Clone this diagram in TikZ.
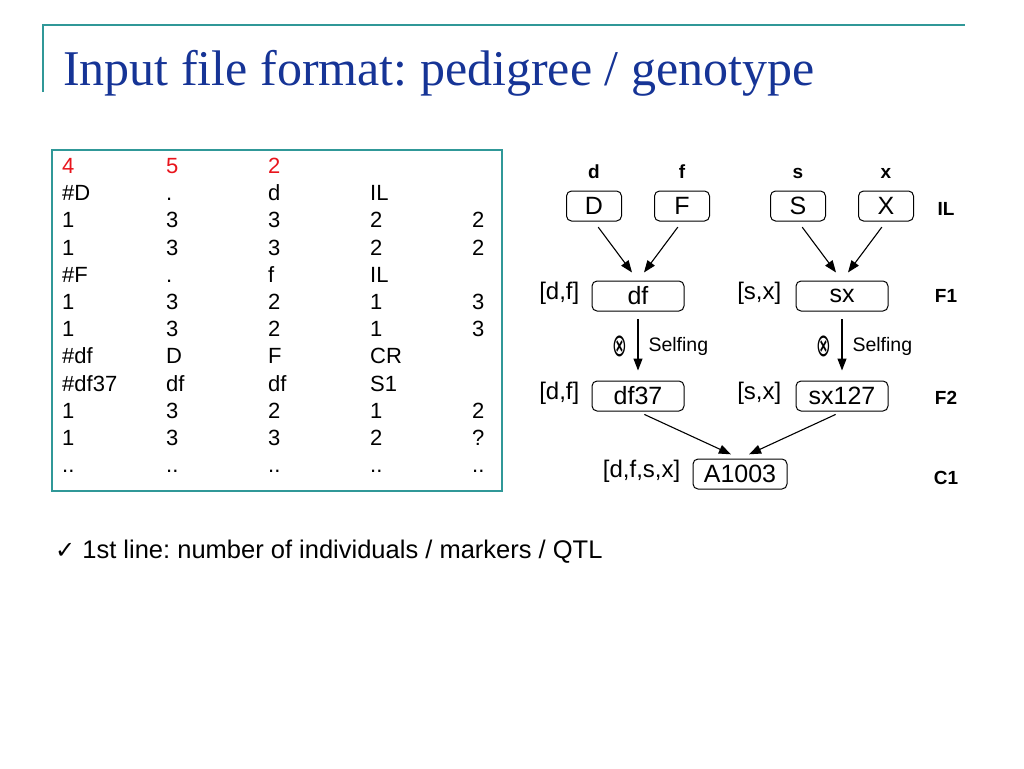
\documentclass[tikz,border=0pt]{standalone}
\usepackage{fontspec}
\setmainfont{Liberation Sans}
\newfontfamily\titlefont{Liberation Serif}
\newfontfamily\symfont{DejaVu Sans}
\usetikzlibrary{arrows.meta,positioning}
\definecolor{frameteal}{RGB}{48,152,152}
\definecolor{titleblue}{RGB}{22,52,150}
\definecolor{countred}{RGB}{232,20,28}
\frenchspacing

\tikzset{
  cell/.style={anchor=west, inner sep=0pt, text height=1.6ex, text depth=0.3ex,
    font=\fontsize{22}{26}\selectfont},
  pbox/.style={draw, rounded corners=5pt, line width=1pt, minimum height=30pt,
    minimum width=92pt, inner sep=0pt, font=\fontsize{25}{29}\selectfont},
  ilbox/.style={pbox, minimum width=55pt},
  toplab/.style={font=\fontsize{19}{22}\selectfont\bfseries, inner sep=0pt,
    text height=13pt, text depth=0pt, label distance=12pt},
  genlab/.style={font=\fontsize{19}{22}\selectfont\bfseries, inner sep=0pt},
  sidelab/.style={font=\fontsize{24}{28}\selectfont, inner sep=0pt, yshift=3pt},
  selflab/.style={font=\fontsize{19.5}{23}\selectfont, inner sep=0pt},
  crosslab/.style={font=\fontsize{32}{36}\symfont, inner sep=0pt}
}

\begin{document}
\begin{tikzpicture}[x=1pt,y=1pt]
  \useasboundingbox (0,0) rectangle (1024,-768);

  % title
  \draw[frameteal, line width=2pt] (43,-92) -- (43,-25) -- (965,-25);
  \node[anchor=base west, inner sep=0pt, text=titleblue,
    font=\fontsize{50}{56}\titlefont] (title) at (63,-85)
    {Input file format: pedigree / genotype};

  % input file
  \draw[frameteal, line width=1.5pt] (52,-150) rectangle (502,-491);
  \node[cell, text=countred] (r1a) at (62,-170) {4};
  \node[cell, text=countred] (r1b) at (166,-170) {5};
  \node[cell, text=countred] (r1c) at (268,-170) {2};
  \foreach \ca/\cb/\cc/\cd/\ce [count=\i from 2] in {
      \#D/./d/IL/{}, 1/3/3/2/2, 1/3/3/2/2, \#F/./f/IL/{},
      1/3/2/1/3, 1/3/2/1/3, \#df/D/F/CR/{}, \#df37/df/df/S1/{},
      1/3/2/1/2, 1/3/3/2/?, ../../../../..}
  {
    \pgfmathsetmacro\ry{-170-27.2*(\i-1)}
    \node[cell] (r\i a) at (62,\ry) {\ca};
    \node[cell] (r\i b) at (166,\ry) {\cb};
    \node[cell] (r\i c) at (268,\ry) {\cc};
    \node[cell] (r\i d) at (370,\ry) {\cd};
    \node[cell] (r\i e) at (472,\ry) {\ce};
  }

  % pedigree
  \node[pbox, minimum width=94pt] (A1003) at (740,-474) {A1003}
    [grow'=up, parent anchor=north, child anchor=south,
     edge from parent/.style={draw, line width=1.1pt,
       {Triangle[length=12pt,width=9pt]}-, shorten <=10pt, shorten >=7pt},
     level 1/.style={sibling distance=204pt, level distance=78pt},
     level 2/.style={level distance=100pt},
     level 3/.style={sibling distance=88pt, level distance=90pt}]
    child {node[pbox] (df37) {df37}
        child {node[pbox] (df) {df}
            child {node[ilbox, label={[toplab]above:d}] (D) {D}}
            child {node[ilbox, label={[toplab]above:f}] (F) {F}}
            edge from parent
              node[crosslab, left=10pt] (xdf) {\scalebox{0.55}[1]{⊗}}
              node[selflab, right=10pt] (sdf) {Selfing}
        }
    }
    child {node[pbox] (sx127) {sx127}
        child {node[pbox] (sx) {sx}
            child {node[ilbox, label={[toplab]above:s}] (S) {S}}
            child {node[ilbox, label={[toplab]above:x}] (X) {X}}
            edge from parent
              node[crosslab, left=10pt] (xsx) {\scalebox{0.55}[1]{⊗}}
              node[selflab, right=10pt] (ssx) {Selfing}
        }
    };

  \node[sidelab, left=12pt of df] (ldf) {[d,f]};
  \node[sidelab, left=14pt of sx] (lsx) {[s,x]};
  \node[sidelab, left=12pt of df37] (ldf37) {[d,f]};
  \node[sidelab, left=14pt of sx127] (lsx127) {[s,x]};
  \node[sidelab, left=12pt of A1003] (lA1003) {[d,f,s,x]};

  \node[genlab] (gIL) at (946,-209) {IL};
  \node[genlab] (gF1) at (946,-296) {F1};
  \node[genlab] (gF2) at (946,-398) {F2};
  \node[genlab] (gC1) at (946,-478) {C1};

  % note
  \node[anchor=west, inner sep=0pt, font=\fontsize{25.5}{30}\selectfont] (note) at (55,-552)
    {{\symfont\fontsize{24}{28}\selectfont ✓} 1st line: number of individuals / markers / QTL};
\end{tikzpicture}
\end{document}
